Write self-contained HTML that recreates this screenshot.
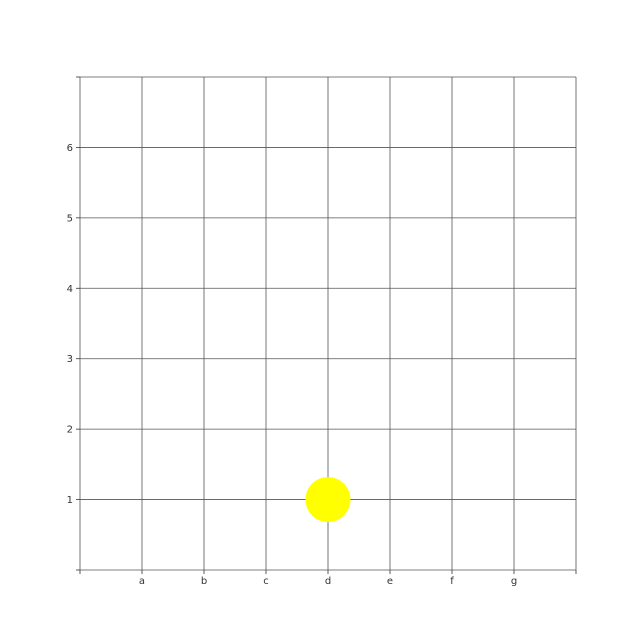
<!DOCTYPE html>
<html><head><meta charset="utf-8"><style>
html,body{margin:0;padding:0;background:#fff;}
svg{display:block;font-family:"DejaVu Sans","Liberation Sans",sans-serif;}
</style></head><body>
<svg id="chart" width="640" height="640"></svg>
<script>
const categories = ["a","b","c","d","e","f","g"];
const yTickLabels = [1,2,3,4,5,6];
const pointCategories = ["d"];
const pointValues = [1];

const NS = "http://www.w3.org/2000/svg";
const svg = document.getElementById("chart");
const L = 80, R = 576, T = 77, B = 570;
const xMin = 0, xMax = 8, yMin = 0, yMax = 7;
const xs = v => L + (v - xMin) / (xMax - xMin) * (R - L);
const ys = v => B - (v - yMin) / (yMax - yMin) * (B - T);
function mk(tag, attrs){const e=document.createElementNS(NS,tag);for(const k in attrs)e.setAttribute(k,attrs[k]);svg.appendChild(e);return e;}

const bg = mk("rect",{x:L,y:T,width:R-L,height:B-T,fill:"#fff"});



// vertical grid lines at every integer
for (let i = xMin; i <= xMax; i++) {
  const g = mk("line",{x1:xs(i),x2:xs(i),y1:T,y2:B,stroke:"#555","stroke-width":0.8});
  
  
  const t = mk("line",{x1:xs(i),x2:xs(i),y1:B,y2:B+4,stroke:"#333","stroke-width":0.8});
  
  
}
for (let j = yMin; j <= yMax; j++) {
  const g = mk("line",{x1:L,x2:R,y1:ys(j),y2:ys(j),stroke:"#555","stroke-width":0.8});
  
  
  const t = mk("line",{x1:L-4,x2:L,y1:ys(j),y2:ys(j),stroke:"#333","stroke-width":0.8});
  
  
}
categories.forEach((c, i) => {
  const t = mk("text",{x:xs(i+1),y:B+14,"text-anchor":"middle","font-size":10,fill:"#333"});
  t.textContent = c;
  
  
});
yTickLabels.forEach(v => {
  const t = mk("text",{x:L-7,y:ys(v)+3.5,"text-anchor":"end","font-size":10,fill:"#333"});
  t.textContent = v;
  
  
});
pointCategories.forEach((c, i) => {
  const p = mk("circle",{cx:xs(categories.indexOf(c)+1),cy:ys(pointValues[i]),r:22.5,fill:"#ffff00"});
  
  
});
</script>
</body></html>
